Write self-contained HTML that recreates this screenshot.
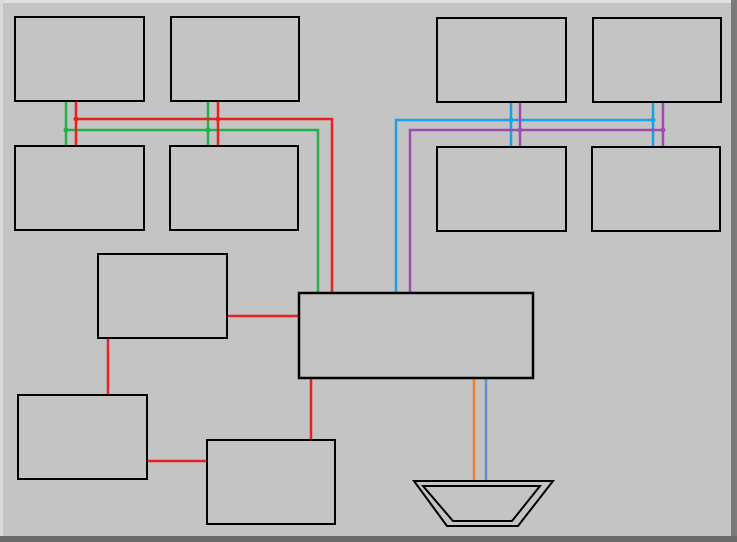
<!DOCTYPE html>
<html><head><style>body{margin:0;background:#c4c4c4}svg{display:block}</style></head><body>
<svg width="737" height="542" viewBox="0 0 737 542" xmlns="http://www.w3.org/2000/svg">
<rect x="0" y="0" width="737" height="542" fill="#c4c4c4"/>
<rect x="0" y="0" width="737" height="3" fill="#e0e0e0"/>
<rect x="0" y="0" width="3" height="542" fill="#dadada"/>
<rect x="731" y="0" width="6" height="542" fill="#7a7a7a"/>
<rect x="0" y="536" width="737" height="6" fill="#6a6a6a"/>
<g fill="none" stroke-width="2.5">
<path d="M66 101V146M208 101V146M66 130H318V293" stroke="#22b04a"/>
<path d="M76 101V146M218 101V146M76 119H332V293" stroke="#e82020"/>
<path d="M396 293V120H653M511 102V147M653 102V147" stroke="#1aa0e6"/>
<path d="M410 293V130H663M520 102V147M663 102V147" stroke="#a04ab0"/>
<path d="M227 316H299M108 338V395M147 461H207M311 378V440" stroke="#e82020"/>
<path d="M474 378V481" stroke="#f08030"/>
<path d="M486 378V481" stroke="#6090d0"/>
</g>
<g>
<circle cx="76" cy="119" r="2.5" fill="#e82020"/><circle cx="218" cy="119" r="2.5" fill="#e82020"/>
<circle cx="66" cy="130" r="2.5" fill="#22b04a"/><circle cx="208" cy="130" r="2.5" fill="#22b04a"/>
<circle cx="511" cy="120" r="2.5" fill="#1aa0e6"/><circle cx="653" cy="120" r="2.5" fill="#1aa0e6"/>
<circle cx="520" cy="130" r="2.5" fill="#a04ab0"/><circle cx="663" cy="130" r="2.5" fill="#a04ab0"/>
</g>
<g fill="#c4c4c4" stroke="#000" stroke-width="2">
<rect x="15" y="17" width="129" height="84"/>
<rect x="171" y="17" width="128" height="84"/>
<rect x="437" y="18" width="129" height="84"/>
<rect x="593" y="18" width="128" height="84"/>
<rect x="15" y="146" width="129" height="84"/>
<rect x="170" y="146" width="128" height="84"/>
<rect x="437" y="147" width="129" height="84"/>
<rect x="592" y="147" width="128" height="84"/>
<rect x="98" y="254" width="129" height="84"/>
<rect x="299" y="293" width="234" height="85" stroke-width="2.5"/>
<rect x="18" y="395" width="129" height="84"/>
<rect x="207" y="440" width="128" height="84"/>
<polygon points="414,481 553,481 518,526 447,526"/>
<polygon points="423,486 540,486 512,521 453,521"/>
</g>
</svg>
</body></html>
